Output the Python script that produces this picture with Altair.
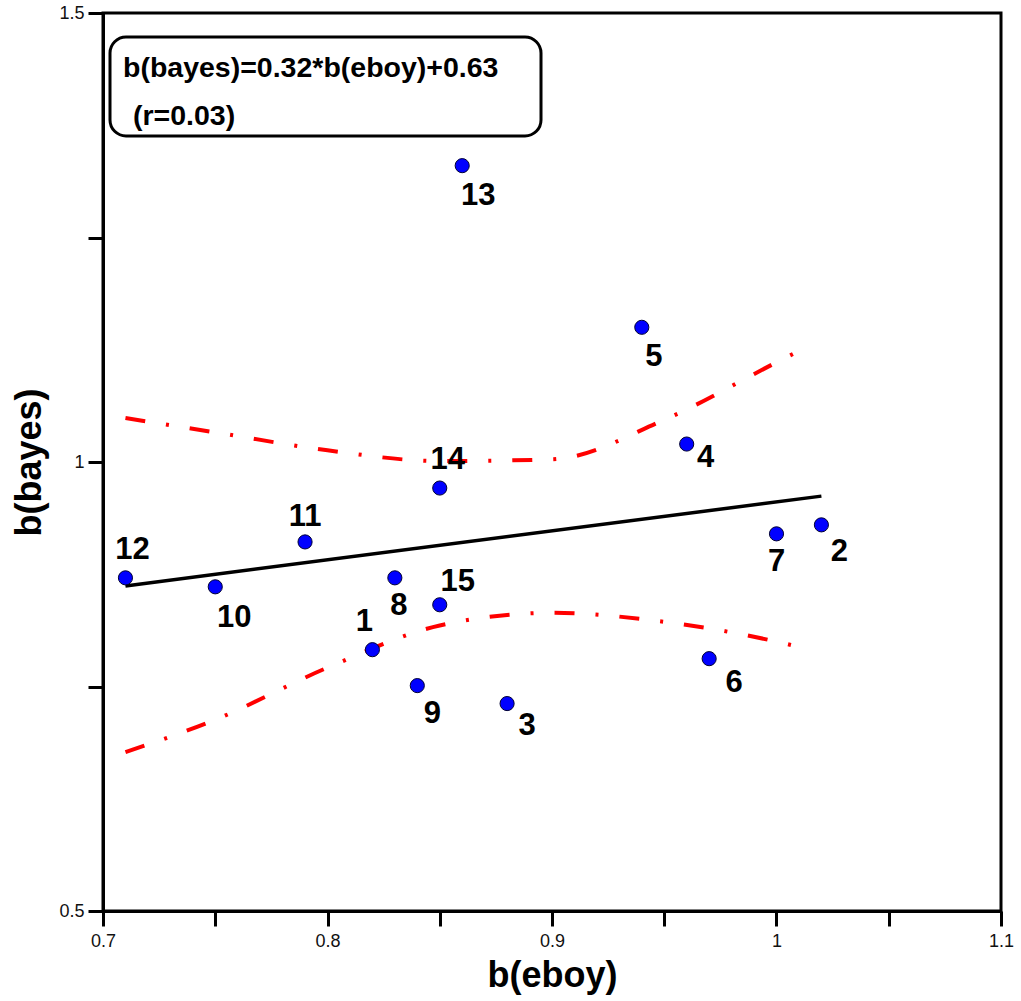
import altair as alt
import pandas as pd

# ---- data ----
point_ids = [1, 2, 3, 4, 5, 6, 7, 8, 9, 10, 11, 12, 13, 14, 15]
eboy = [0.82, 1.02, 0.88, 0.96, 0.94, 0.97, 1.00, 0.83, 0.84, 0.75, 0.79, 0.71, 0.86, 0.85, 0.85]
bayes = [0.791, 0.930, 0.731, 1.020, 1.150, 0.781, 0.920, 0.871, 0.751, 0.861, 0.911, 0.871, 1.330, 0.971, 0.841]

# label offsets (pixels) for each point label
label_dx = [-8, 18, 20, 19, 12, 25, 0, 4, 15, 19, 0, 7, 16, 8, 18]
label_dy = [-28, 27, 22, 14, 30, 24, 28, 28, 28, 31, -25, -28, 30, -28, -23]

fit_x = [0.71, 1.02]
fit_y = [0.862, 0.962]

band_x = [0.71, 0.75, 0.80, 0.85, 0.90, 0.95, 1.00, 1.015]
band_upper = [1.049, 1.033, 1.013, 1.001, 1.003, 1.047, 1.111, 1.130]
band_lower = [0.677, 0.713, 0.771, 0.818, 0.832, 0.822, 0.800, 0.791]

annotation_lines = ["b(bayes)=0.32*b(eboy)+0.63", "(r=0.03)"]

x_ticks = [0.7, 0.75, 0.8, 0.85, 0.9, 0.95, 1.0, 1.05, 1.1]
y_ticks = [0.5, 0.75, 1.0, 1.25, 1.5]

FONT = "Liberation Sans"
W, H = 898, 898

pts = pd.DataFrame({"id": point_ids, "eboy": eboy, "bayes": bayes})
fit = pd.DataFrame({"eboy": fit_x, "bayes": fit_y})
band = pd.concat([
    pd.DataFrame({"eboy": band_x, "bayes": band_upper, "band": "upper"}),
    pd.DataFrame({"eboy": band_x, "bayes": band_lower, "band": "lower"}),
])

xscale = alt.Scale(domain=[0.7, 1.1], nice=False, zero=False)
yscale = alt.Scale(domain=[0.5, 1.5], nice=False, zero=False)

xenc = alt.X("eboy:Q", scale=xscale, title="b(eboy)",
             axis=alt.Axis(values=x_ticks, format="~g", labelFontSize=18, labelFlush=False,
                           labelExpr="(round(datum.value*20) % 2 == 0) ? datum.label : ''"))
yenc = alt.Y("bayes:Q", scale=yscale, title="b(bayes)",
             axis=alt.Axis(values=y_ticks, format="~g", labelFontSize=18, labelFlush=False,
                           labelExpr="(round(datum.value*4) % 2 == 0) ? datum.label : ''"))

band_layer = alt.Chart(band).mark_line(
    color="#ff0000", strokeWidth=4, strokeDash=[20, 21, 3, 21], interpolate="monotone"
).encode(x=xenc, y=yenc, detail="band:N")

fit_layer = alt.Chart(fit).mark_line(color="black", strokeWidth=3.5).encode(x=xenc, y=yenc)

point_layer = alt.Chart(pts).mark_point(
    filled=True, fill="#0000ff", stroke="#000033", strokeWidth=1, size=200, opacity=1, shape="circle"
).encode(x=xenc, y=yenc)

label_layers = []
for pid, dx, dy in zip(point_ids, label_dx, label_dy):
    label_layers.append(
        alt.Chart(pts).transform_filter(alt.datum.id == pid).mark_text(
            font=FONT, fontSize=31, fontWeight="bold", color="black",
            dx=dx, dy=dy, align="center", baseline="middle"
        ).encode(x=xenc, y=yenc, text="id:N")
    )

ann = pd.DataFrame({"line": annotation_lines, "row": [0, 1]})
box = alt.Chart(pd.DataFrame({"a": [0]})).mark_rect(
    fill="white", stroke="black", strokeWidth=3, cornerRadius=16
).encode(x=alt.value(7), x2=alt.value(438), y=alt.value(24), y2=alt.value(123))

ann_text1 = alt.Chart(ann).transform_filter(alt.datum.row == 0).mark_text(
    font=FONT, fontSize=28.5, fontWeight="bold", color="black", align="left", baseline="alphabetic"
).encode(x=alt.value(20), y=alt.value(64), text="line:N")
ann_text2 = alt.Chart(ann).transform_filter(alt.datum.row == 1).mark_text(
    font=FONT, fontSize=28.5, fontWeight="bold", color="black", align="left", baseline="alphabetic"
).encode(x=alt.value(30), y=alt.value(112), text="line:N")

chart = alt.layer(
    band_layer, fit_layer, point_layer, *label_layers, box, ann_text1, ann_text2
).properties(
    width=W, height=H,
    autosize=alt.AutoSizeParams(type="none"),
    padding={"left": 103, "top": 13, "right": 20, "bottom": 90},
).configure_view(
    stroke="black", strokeWidth=3
).configure_axis(
    grid=False, domainColor="black", domainWidth=3, tickColor="black", tickWidth=3,
    tickSize=15, labelFont=FONT, labelFontSize=18, labelColor="#111111",
    titleFont=FONT, titleFontSize=36, titleFontWeight="bold", titleColor="black",
).configure_axisX(
    labelPadding=6, titlePadding=8
).configure_axisY(
    labelPadding=4, titlePadding=10
)

chart.save("out.html", embed_options={"renderer": "svg", "actions": False})
